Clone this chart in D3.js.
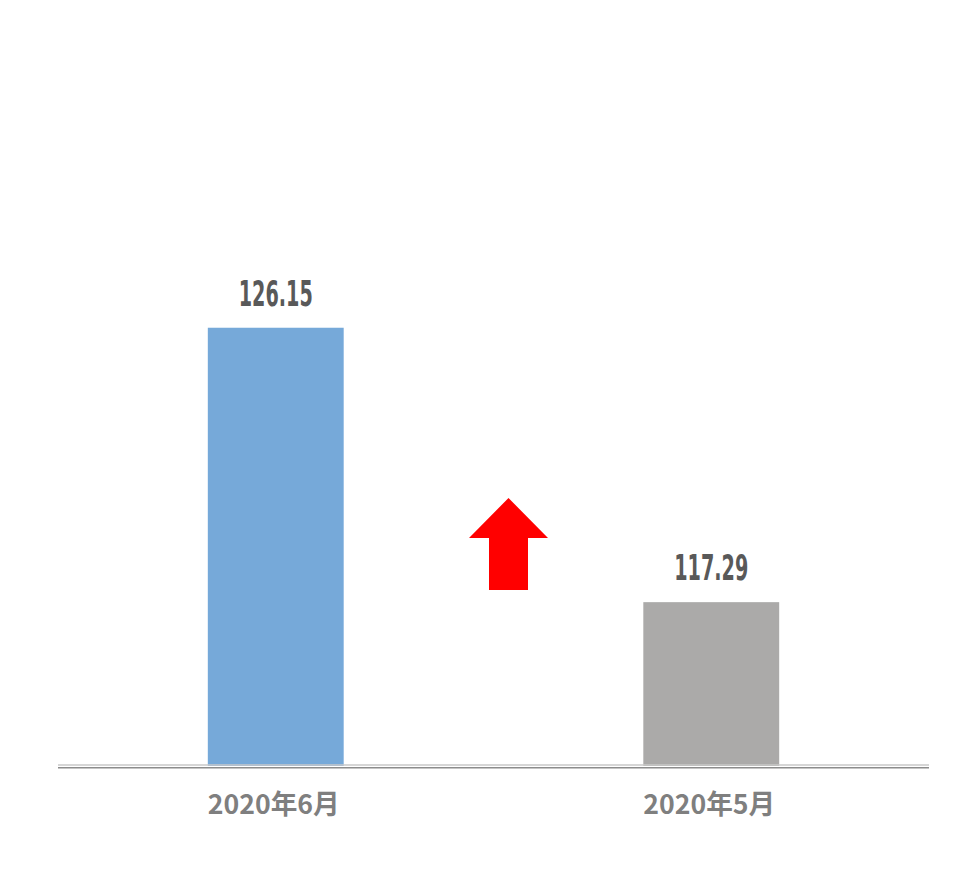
<!DOCTYPE html>
<html>
<head>
<meta charset="utf-8">
<script src="https://cdn.jsdelivr.net/npm/d3@7"></script>
<style>
  body { margin: 0; background: #fff; }
</style>
</head>
<body>
<script>
// chart data
var categories = ["2020年6月", "2020年5月"];
var values = [126.15, 117.29];
var valueLabels = ["126.15", "117.29"];
var barColors = ["#76a9d9", "#abaaa9"];

var width = 976, height = 884;
var left = 58, right = 929, baseY = 766, topY = 208.5;

var svg = d3.select("body").append("svg")
    .attr("width", width)
    .attr("height", height);

var x = d3.scaleBand()
    .domain(categories)
    .range([left, right])
    .paddingInner(0.688)
    .paddingOuter(0.344);

var y = d3.scaleLinear()
    .domain([112, 130])
    .range([baseY, topY]);

// bars
svg.selectAll(".bar")
    .data(values)
    .enter().append("rect")
    .attr("class", "bar")
    .attr("x", function (d, i) { return x(categories[i]); })
    .attr("y", function (d) { return y(d); })
    .attr("width", x.bandwidth())
    .attr("height", function (d) { return y(112) - y(d); })
    .style("fill", function (d, i) { return barColors[i]; });

// baseline (double line)
svg.append("line")
    .attr("x1", left).attr("x2", right)
    .attr("y1", baseY - 1).attr("y2", baseY - 1)
    .style("stroke", "#c8c8c8").style("stroke-width", 1.5);
svg.append("line")
    .attr("x1", left).attr("x2", right)
    .attr("y1", baseY + 1.7).attr("y2", baseY + 1.7)
    .style("stroke", "#8c8c8c").style("stroke-width", 1.5);

// value labels
svg.selectAll(".val")
    .data(values)
    .enter().append("text")
    .attr("class", "val")
    .attr("x", function (d, i) { return x(categories[i]) + x.bandwidth() / 2; })
    .attr("y", function (d) { return y(d) - 22; })
    .attr("text-anchor", "middle")
    .attr("textLength", 74)
    .attr("lengthAdjust", "spacingAndGlyphs")
    .style("font-family", "'Liberation Sans Narrow', 'DejaVu Sans Condensed', sans-serif")
    .style("font-weight", "bold")
    .style("font-size", "35px")
    .style("fill", "#595959")
    .text(function (d, i) { return valueLabels[i]; });

// category labels
svg.selectAll(".cat")
    .data(categories)
    .enter().append("text")
    .attr("class", "cat")
    .attr("x", function (d) { return x(d) + x.bandwidth() / 2 - 2; })
    .attr("y", 814)
    .attr("text-anchor", "middle")
    .attr("textLength", 132)
    .attr("lengthAdjust", "spacingAndGlyphs")
    .style("font-family", "'Liberation Sans Narrow', 'Noto Sans CJK SC', sans-serif")
    .style("font-weight", "bold")
    .style("font-size", "27px")
    .style("fill", "#7f7f7f")
    .text(function (d) { return d; });

// up arrow, a little right of the gap's middle
var ax = (x(categories[0]) + x.bandwidth() + x(categories[1])) / 2 + 15;
var arrow = d3.path();
arrow.moveTo(ax, 498);
arrow.lineTo(ax + 39.5, 538);
arrow.lineTo(ax + 19.5, 538);
arrow.lineTo(ax + 19.5, 590);
arrow.lineTo(ax - 19.5, 590);
arrow.lineTo(ax - 19.5, 538);
arrow.lineTo(ax - 39.5, 538);
arrow.closePath();
svg.append("path")
    .attr("d", arrow.toString())
    .style("fill", "#ff0000");
</script>
</body>
</html>
